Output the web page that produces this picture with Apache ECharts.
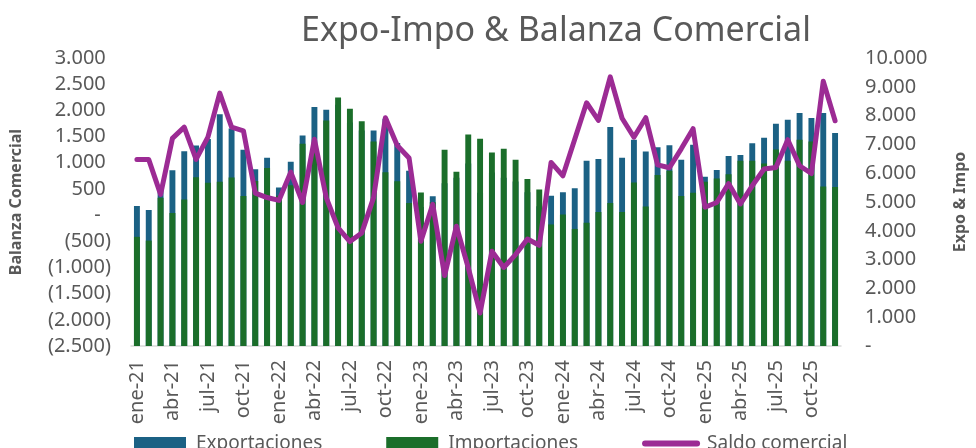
<!DOCTYPE html>
<html>
<head>
<meta charset="utf-8">
<script src="https://cdn.jsdelivr.net/npm/echarts@6/dist/echarts.min.js"></script>
<style>
  html, body { margin: 0; padding: 0; background: #fff; }
  #chart { width: 976px; height: 448px; }
</style>
</head>
<body>
<div id="chart"></div>
<script>
// Months ene-21 .. dic-25
const monthNames = ["ene", "feb", "mar", "abr", "may", "jun", "jul", "ago", "sep", "oct", "nov", "dic"];
const years = ["21", "22", "23", "24", "25"];
const months = [];
years.forEach((y) => monthNames.forEach((m) => months.push(m + "-" + y)));

// Exportaciones (right axis)
const exportaciones = [
  4860, 4720, 5540, 6100, 6760, 6960, 7190, 8050, 7550, 6810, 6140, 6540,
  5500, 6400, 7310, 8300, 8205, 8380, 7760, 7480, 7480, 7890, 7050, 6085,
  4830, 5200, 5650, 5840, 6335, 5325, 6020, 5845, 5715, 5340, 4855, 5220,
  5340, 5480, 6435, 6490, 7600, 6540, 7160, 6750, 6900, 6970, 6470, 6985,
  5875, 6110, 6600, 6635, 7040, 7230, 7715, 7855, 8090, 7915, 8090, 7400
];

// Importaciones (right axis)
const importaciones = [
  3790, 3660, 5150, 4620, 5090, 5860, 5670, 5700, 5850, 5210, 5730, 6180,
  5220, 5580, 7020, 6850, 7833, 8630, 8240, 7800, 7100, 6030, 5720, 4965,
  5330, 4990, 6810, 6050, 7345, 7195, 6715, 6845, 6470, 5795, 5430, 4220,
  4570, 4065, 4280, 4650, 4965, 4650, 5675, 4840, 5935, 6085, 5210, 5325,
  5700, 5815, 5965, 6435, 6435, 6340, 6820, 6435, 7160, 7100, 5535, 5525
];

// Saldo comercial (left axis)
const saldo = [
  1060, 1060, 395, 1465, 1680, 1065, 1490, 2330, 1680, 1610, 420, 335,
  280, 820, 240, 1450, 335, -245, -505, -340, 333, 1860, 1330, 1090,
  -500, 206, -1155, -212, -1006, -1869, -692, -1000, -754, -456, -577, 1006,
  750, 1450, 2145, 1810, 2640, 1850, 1487, 1860, 960, 904, 1265, 1650,
  150, 240, 602, 212, 560, 880, 910, 1440, 942, 794, 2557, 1801
];

const FONT = "Noto Sans";
const GREY = "#595959";
const PURPLE = "#9c2b94";

function thousands(v) {
  return String(Math.abs(v)).replace(/\B(?=(\d{3})+(?!\d))/g, ".");
}

// accounting style: negatives in brackets, zero as a dash
function fmtLeft(v) {
  if (v === 0) return "-  ";
  return v < 0 ? "(" + thousands(v) + ")" : thousands(v) + " ";
}

function fmtRight(v) {
  return v === 0 ? "-" : thousands(v);
}

const chart = echarts.init(document.getElementById("chart"));

const option = {
  animation: false,
  textStyle: { fontFamily: FONT },
  title: {
    text: "Expo-Impo & Balanza Comercial",
    left: 551,
    top: 9,
    textAlign: "center",
    textStyle: { fontFamily: FONT, fontSize: 34, fontWeight: "normal", color: GREY },
  },
  legend: {
    left: 129,
    top: 429,
    itemWidth: 52,
    itemHeight: 13,
    itemGap: 64,
    textStyle: { fontFamily: FONT, fontSize: 19, color: GREY, padding: [0, 0, 0, 5] },
    data: [
      { name: "Exportaciones", icon: "rect" },
      { name: "Importaciones", icon: "rect" },
      { name: "Saldo comercial", itemStyle: { opacity: 0 }, lineStyle: { width: 6, cap: "round" } },
    ],
  },
  grid: { left: 126, right: 121, top: 58, bottom: 102 },
  xAxis: {
    type: "category",
    data: months,
    axisLine: { onZero: false, lineStyle: { color: "#d9d9d9", width: 1.5 } },
    axisTick: { interval: 2, length: 6, lineStyle: { color: "#d9d9d9", width: 1.5 } },
    axisLabel: {
      interval: 2,
      rotate: 90,
      margin: 14,
      fontFamily: FONT,
      fontSize: 20,
      color: GREY,
    },
  },
  yAxis: [
    {
      type: "value",
      min: -2500,
      max: 3000,
      interval: 500,
      name: "Balanza Comercial",
      nameLocation: "middle",
      nameGap: 107,
      nameRotate: 90,
      nameTextStyle: { fontFamily: FONT, fontSize: 16, fontWeight: "bold", color: GREY },
      axisLine: { show: false },
      axisTick: { show: false },
      splitLine: { show: false },
      axisLabel: { margin: 20, fontFamily: FONT, fontSize: 20, color: GREY, formatter: fmtLeft },
    },
    {
      type: "value",
      min: 0,
      max: 10000,
      interval: 1000,
      name: "Expo & Impo",
      nameLocation: "middle",
      nameGap: 111,
      nameRotate: 90,
      nameTextStyle: { fontFamily: FONT, fontSize: 16, fontWeight: "bold", color: GREY },
      axisLine: { show: false },
      axisTick: { show: false },
      splitLine: { show: false },
      axisLabel: { margin: 24, fontFamily: FONT, fontSize: 20, color: GREY, formatter: fmtRight },
    },
  ],
  series: [
    {
      name: "Exportaciones",
      type: "bar",
      yAxisIndex: 1,
      data: exportaciones,
      barWidth: "50%",
      barGap: "-100%",
      itemStyle: { color: "#1b6184" },
    },
    {
      name: "Importaciones",
      type: "bar",
      yAxisIndex: 1,
      data: importaciones,
      barWidth: "50%",
      barGap: "-100%",
      itemStyle: { color: "#1b6e2a" },
    },
    {
      name: "Saldo comercial",
      type: "line",
      yAxisIndex: 0,
      data: saldo,
      symbol: "none",
      z: 5,
      lineStyle: { color: PURPLE, width: 5, cap: "round", join: "round" },
      itemStyle: { color: PURPLE },
    },
  ],
};

chart.setOption(option);
</script>
</body>
</html>
